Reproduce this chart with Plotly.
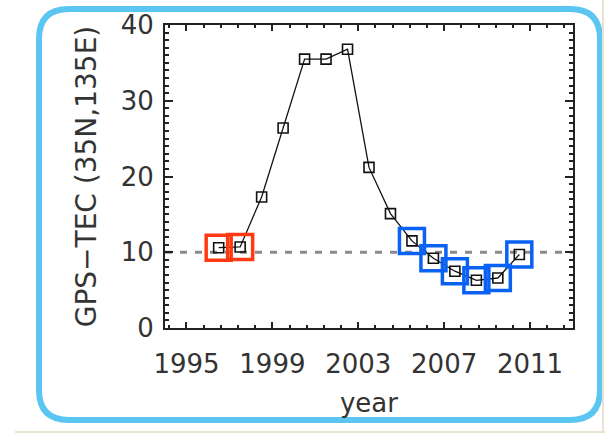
import plotly.graph_objects as go

# ---- data ----
years = [1996.5, 1997.5, 1998.5, 1999.5, 2000.5, 2001.5, 2002.5, 2003.5,
         2004.5, 2005.5, 2006.5, 2007.5, 2008.5, 2009.5, 2010.5]
tec = [10.6, 10.7, 17.3, 26.4, 35.5, 35.5, 36.8, 21.2,
       15.1, 11.5, 9.2, 7.5, 6.3, 6.6, 9.7]
red_years = [1996.5, 1997.5]
blue_years = [2005.5, 2006.5, 2007.5, 2008.5, 2009.5, 2010.5]
reference_level = 10
x_ticks = [1995, 1999, 2003, 2007, 2011]
y_ticks = [0, 10, 20, 30, 40]

val = dict(zip(years, tec))

W, H = 605, 434
L, R, T, B = 165, 32, 25, 106
PW, PH = W - L - R, H - T - B

def px(x):
    return (x - L) / PW

def py(y):
    return (H - B - y) / PH

FONT = "DejaVu Sans"
TXT = "#333333"

fig = go.Figure()

fig.add_trace(go.Scatter(
    x=years, y=tec, mode="lines+markers",
    line=dict(color="#111111", width=1.3),
    marker=dict(symbol="square-open", size=10, color="#111111",
                line=dict(width=1.6, color="#111111")),
    showlegend=False, cliponaxis=False))

fig.add_trace(go.Scatter(
    x=red_years, y=[val[v] for v in red_years], mode="markers",
    marker=dict(symbol="square-open", size=25, color="#FF3A12",
                line=dict(width=3.5, color="#FF3A12")),
    showlegend=False, cliponaxis=False))

fig.add_trace(go.Scatter(
    x=blue_years, y=[val[v] for v in blue_years], mode="markers",
    marker=dict(symbol="square-open", size=25, color="#0A62F5",
                line=dict(width=3.5, color="#0A62F5")),
    showlegend=False, cliponaxis=False))

# dashed reference level
fig.add_shape(type="line", xref="paper", yref="y", x0=0, x1=1,
              y0=reference_level, y1=reference_level,
              line=dict(color="#8a8a8a", width=3, dash="7px,8px"), layer="below")

# rounded light-blue frame
x0, x1, y0, y1, r = 39, 600, 9, 420, 30
ry = r
path = (f"M {px(x0 + r)},{py(y0)} L {px(x1 - r)},{py(y0)} "
        f"Q {px(x1)},{py(y0)} {px(x1)},{py(y0 + ry)} "
        f"L {px(x1)},{py(y1 - ry)} Q {px(x1)},{py(y1)} {px(x1 - r)},{py(y1)} "
        f"L {px(x0 + r)},{py(y1)} Q {px(x0)},{py(y1)} {px(x0)},{py(y1 - ry)} "
        f"L {px(x0)},{py(y0 + ry)} Q {px(x0)},{py(y0)} {px(x0 + r)},{py(y0)} Z")
fig.add_shape(type="path", xref="paper", yref="paper", path=path,
              line=dict(color="#5CC6F2", width=6))

# page edge lines
fig.add_shape(type="line", xref="paper", yref="paper",
              x0=px(15), x1=px(605), y0=py(432), y1=py(432),
              line=dict(color="#E9E2D0", width=2))
fig.add_shape(type="line", xref="paper", yref="paper",
              x0=px(603), x1=px(603), y0=py(0), y1=py(432),
              line=dict(color="#E9E2D0", width=2))

axis_common = dict(
    showline=True, linecolor="#222222", linewidth=2, mirror="allticks",
    ticks="inside", tickcolor="#222222", tickwidth=2,
    showgrid=False, zeroline=False,
    tickfont=dict(family=FONT, size=26, color=TXT),
)

fig.update_xaxes(
    range=[1994, 2013], tickvals=x_ticks, ticklen=6,
    ticklabelstandoff=12,
    minor=dict(dtick=0.8, tick0=1995, ticklen=3, ticks="inside",
               tickwidth=2, tickcolor="#222222", showgrid=False),
    title=dict(text="year", font=dict(family=FONT, size=26, color=TXT), standoff=16),
    **axis_common)

fig.update_yaxes(
    range=[0, 40], tickvals=y_ticks, ticklen=8,
    ticklabelstandoff=4,
    minor=dict(dtick=1, tick0=0, ticklen=4, ticks="inside",
               tickwidth=2, tickcolor="#222222", showgrid=False),
    title=dict(text="GPS−TEC (35N,135E)",
               font=dict(family=FONT, size=28, color=TXT), standoff=16),
    **axis_common)

fig.update_layout(
    width=W, height=H,
    margin=dict(l=L, r=R, t=T, b=B, autoexpand=False),
    paper_bgcolor="white", plot_bgcolor="white",
    showlegend=False,
)

fig.write_html("out.html", config={"displayModeBar": False},
               post_script="document.body.style.margin='0px';")
